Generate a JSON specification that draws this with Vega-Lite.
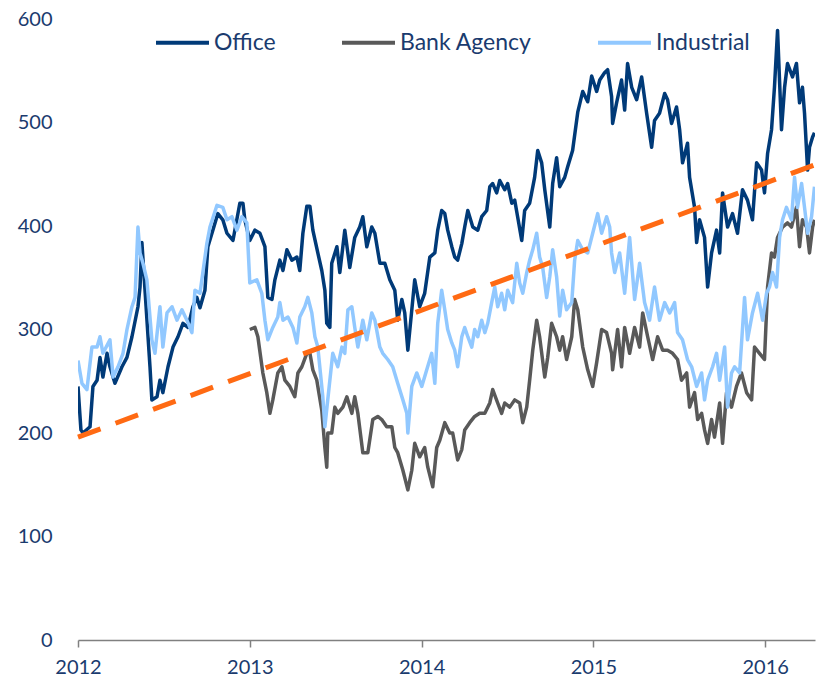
{
"$schema":"https://vega.github.io/schema/vega-lite/v6.json",
"width":737,"height":621,
"autosize":{"type":"none"},
"padding":{"left":78,"top":19,"right":2,"bottom":45},
"background":"white",
"config":{"view":{"stroke":null},"font":"Lato"},
"datasets":{
"trend":[{"year":2012,"value":196},{"year":2016.287,"value":459}],
"series":[
{"series":"Office","year":2012.000,"value":245},{"series":"Office","year":2012.017,"value":203},{"series":"Office","year":2012.029,"value":200},{"series":"Office","year":2012.070,"value":206},{"series":"Office","year":2012.087,"value":245},{"series":"Office","year":2012.111,"value":251},{"series":"Office","year":2012.128,"value":273},{"series":"Office","year":2012.145,"value":254},{"series":"Office","year":2012.169,"value":277},{"series":"Office","year":2012.186,"value":264},{"series":"Office","year":2012.215,"value":248},{"series":"Office","year":2012.256,"value":264},{"series":"Office","year":2012.285,"value":273},{"series":"Office","year":2012.314,"value":293},{"series":"Office","year":2012.349,"value":322},{"series":"Office","year":2012.361,"value":341},{"series":"Office","year":2012.372,"value":384},{"series":"Office","year":2012.419,"value":264},{"series":"Office","year":2012.430,"value":232},{"series":"Office","year":2012.460,"value":235},{"series":"Office","year":2012.477,"value":251},{"series":"Office","year":2012.494,"value":239},{"series":"Office","year":2012.524,"value":264},{"series":"Office","year":2012.553,"value":283},{"series":"Office","year":2012.582,"value":293},{"series":"Office","year":2012.611,"value":306},{"series":"Office","year":2012.640,"value":302},{"series":"Office","year":2012.669,"value":322},{"series":"Office","year":2012.692,"value":331},{"series":"Office","year":2012.710,"value":321},{"series":"Office","year":2012.739,"value":338},{"series":"Office","year":2012.756,"value":380},{"series":"Office","year":2012.785,"value":396},{"series":"Office","year":2012.814,"value":412},{"series":"Office","year":2012.843,"value":406},{"series":"Office","year":2012.867,"value":393},{"series":"Office","year":2012.902,"value":386},{"series":"Office","year":2012.942,"value":422},{"series":"Office","year":2012.960,"value":422},{"series":"Office","year":2012.971,"value":406},{"series":"Office","year":2013.000,"value":386},{"series":"Office","year":2013.030,"value":396},{"series":"Office","year":2013.059,"value":393},{"series":"Office","year":2013.088,"value":380},{"series":"Office","year":2013.105,"value":331},{"series":"Office","year":2013.129,"value":329},{"series":"Office","year":2013.146,"value":348},{"series":"Office","year":2013.175,"value":367},{"series":"Office","year":2013.193,"value":357},{"series":"Office","year":2013.216,"value":377},{"series":"Office","year":2013.245,"value":367},{"series":"Office","year":2013.274,"value":370},{"series":"Office","year":2013.291,"value":357},{"series":"Office","year":2013.309,"value":393},{"series":"Office","year":2013.332,"value":419},{"series":"Office","year":2013.350,"value":419},{"series":"Office","year":2013.367,"value":396},{"series":"Office","year":2013.396,"value":374},{"series":"Office","year":2013.419,"value":357},{"series":"Office","year":2013.437,"value":338},{"series":"Office","year":2013.448,"value":306},{"series":"Office","year":2013.466,"value":302},{"series":"Office","year":2013.477,"value":364},{"series":"Office","year":2013.507,"value":380},{"series":"Office","year":2013.524,"value":355},{"series":"Office","year":2013.553,"value":396},{"series":"Office","year":2013.582,"value":360},{"series":"Office","year":2013.611,"value":389},{"series":"Office","year":2013.640,"value":399},{"series":"Office","year":2013.658,"value":409},{"series":"Office","year":2013.681,"value":380},{"series":"Office","year":2013.710,"value":399},{"series":"Office","year":2013.728,"value":393},{"series":"Office","year":2013.757,"value":364},{"series":"Office","year":2013.786,"value":364},{"series":"Office","year":2013.815,"value":348},{"series":"Office","year":2013.844,"value":338},{"series":"Office","year":2013.861,"value":309},{"series":"Office","year":2013.885,"value":329},{"series":"Office","year":2013.902,"value":316},{"series":"Office","year":2013.920,"value":280},{"series":"Office","year":2013.943,"value":319},{"series":"Office","year":2013.960,"value":348},{"series":"Office","year":2013.989,"value":322},{"series":"Office","year":2014.018,"value":335},{"series":"Office","year":2014.048,"value":370},{"series":"Office","year":2014.077,"value":374},{"series":"Office","year":2014.094,"value":396},{"series":"Office","year":2014.117,"value":415},{"series":"Office","year":2014.135,"value":412},{"series":"Office","year":2014.152,"value":396},{"series":"Office","year":2014.176,"value":380},{"series":"Office","year":2014.193,"value":370},{"series":"Office","year":2014.210,"value":367},{"series":"Office","year":2014.234,"value":383},{"series":"Office","year":2014.251,"value":399},{"series":"Office","year":2014.269,"value":415},{"series":"Office","year":2014.298,"value":399},{"series":"Office","year":2014.327,"value":396},{"series":"Office","year":2014.350,"value":409},{"series":"Office","year":2014.379,"value":415},{"series":"Office","year":2014.397,"value":438},{"series":"Office","year":2014.414,"value":441},{"series":"Office","year":2014.437,"value":432},{"series":"Office","year":2014.455,"value":444},{"series":"Office","year":2014.484,"value":435},{"series":"Office","year":2014.501,"value":441},{"series":"Office","year":2014.525,"value":422},{"series":"Office","year":2014.542,"value":425},{"series":"Office","year":2014.559,"value":409},{"series":"Office","year":2014.583,"value":386},{"series":"Office","year":2014.600,"value":415},{"series":"Office","year":2014.629,"value":422},{"series":"Office","year":2014.658,"value":447},{"series":"Office","year":2014.676,"value":473},{"series":"Office","year":2014.699,"value":461},{"series":"Office","year":2014.717,"value":435},{"series":"Office","year":2014.746,"value":399},{"series":"Office","year":2014.763,"value":441},{"series":"Office","year":2014.786,"value":466},{"series":"Office","year":2014.804,"value":438},{"series":"Office","year":2014.833,"value":447},{"series":"Office","year":2014.850,"value":457},{"series":"Office","year":2014.879,"value":473},{"series":"Office","year":2014.909,"value":510},{"series":"Office","year":2014.938,"value":530},{"series":"Office","year":2014.967,"value":520},{"series":"Office","year":2014.990,"value":545},{"series":"Office","year":2015.019,"value":530},{"series":"Office","year":2015.037,"value":541},{"series":"Office","year":2015.065,"value":548},{"series":"Office","year":2015.083,"value":551},{"series":"Office","year":2015.106,"value":525},{"series":"Office","year":2015.112,"value":499},{"series":"Office","year":2015.135,"value":519},{"series":"Office","year":2015.164,"value":541},{"series":"Office","year":2015.182,"value":512},{"series":"Office","year":2015.199,"value":557},{"series":"Office","year":2015.223,"value":534},{"series":"Office","year":2015.252,"value":522},{"series":"Office","year":2015.281,"value":544},{"series":"Office","year":2015.310,"value":509},{"series":"Office","year":2015.339,"value":476},{"series":"Office","year":2015.356,"value":502},{"series":"Office","year":2015.385,"value":509},{"series":"Office","year":2015.415,"value":528},{"series":"Office","year":2015.432,"value":522},{"series":"Office","year":2015.455,"value":499},{"series":"Office","year":2015.484,"value":515},{"series":"Office","year":2015.502,"value":493},{"series":"Office","year":2015.519,"value":461},{"series":"Office","year":2015.548,"value":480},{"series":"Office","year":2015.560,"value":447},{"series":"Office","year":2015.589,"value":418},{"series":"Office","year":2015.601,"value":384},{"series":"Office","year":2015.618,"value":406},{"series":"Office","year":2015.647,"value":389},{"series":"Office","year":2015.665,"value":341},{"series":"Office","year":2015.688,"value":374},{"series":"Office","year":2015.717,"value":396},{"series":"Office","year":2015.735,"value":374},{"series":"Office","year":2015.752,"value":432},{"series":"Office","year":2015.781,"value":399},{"series":"Office","year":2015.810,"value":412},{"series":"Office","year":2015.839,"value":393},{"series":"Office","year":2015.868,"value":435},{"series":"Office","year":2015.897,"value":425},{"series":"Office","year":2015.926,"value":406},{"series":"Office","year":2015.950,"value":461},{"series":"Office","year":2015.979,"value":454},{"series":"Office","year":2015.996,"value":432},{"series":"Office","year":2016.014,"value":470},{"series":"Office","year":2016.037,"value":493},{"series":"Office","year":2016.054,"value":534},{"series":"Office","year":2016.072,"value":589},{"series":"Office","year":2016.095,"value":493},{"series":"Office","year":2016.113,"value":534},{"series":"Office","year":2016.130,"value":557},{"series":"Office","year":2016.159,"value":544},{"series":"Office","year":2016.182,"value":557},{"series":"Office","year":2016.200,"value":519},{"series":"Office","year":2016.217,"value":534},{"series":"Office","year":2016.229,"value":509},{"series":"Office","year":2016.247,"value":454},{"series":"Office","year":2016.258,"value":476},{"series":"Office","year":2016.276,"value":486},{"series":"Office","year":2016.287,"value":490},
{"series":"Bank Agency","year":2013.000,"value":300},{"series":"Bank Agency","year":2013.030,"value":302},{"series":"Bank Agency","year":2013.047,"value":293},{"series":"Bank Agency","year":2013.076,"value":258},{"series":"Bank Agency","year":2013.099,"value":239},{"series":"Bank Agency","year":2013.117,"value":219},{"series":"Bank Agency","year":2013.134,"value":232},{"series":"Bank Agency","year":2013.163,"value":258},{"series":"Bank Agency","year":2013.187,"value":264},{"series":"Bank Agency","year":2013.204,"value":251},{"series":"Bank Agency","year":2013.233,"value":245},{"series":"Bank Agency","year":2013.262,"value":235},{"series":"Bank Agency","year":2013.280,"value":258},{"series":"Bank Agency","year":2013.303,"value":264},{"series":"Bank Agency","year":2013.332,"value":277},{"series":"Bank Agency","year":2013.350,"value":277},{"series":"Bank Agency","year":2013.367,"value":261},{"series":"Bank Agency","year":2013.390,"value":251},{"series":"Bank Agency","year":2013.419,"value":222},{"series":"Bank Agency","year":2013.437,"value":186},{"series":"Bank Agency","year":2013.448,"value":167},{"series":"Bank Agency","year":2013.454,"value":200},{"series":"Bank Agency","year":2013.477,"value":200},{"series":"Bank Agency","year":2013.495,"value":225},{"series":"Bank Agency","year":2013.512,"value":219},{"series":"Bank Agency","year":2013.542,"value":225},{"series":"Bank Agency","year":2013.565,"value":235},{"series":"Bank Agency","year":2013.594,"value":219},{"series":"Bank Agency","year":2013.611,"value":235},{"series":"Bank Agency","year":2013.629,"value":219},{"series":"Bank Agency","year":2013.658,"value":181},{"series":"Bank Agency","year":2013.687,"value":181},{"series":"Bank Agency","year":2013.716,"value":213},{"series":"Bank Agency","year":2013.745,"value":216},{"series":"Bank Agency","year":2013.768,"value":213},{"series":"Bank Agency","year":2013.797,"value":206},{"series":"Bank Agency","year":2013.827,"value":206},{"series":"Bank Agency","year":2013.844,"value":186},{"series":"Bank Agency","year":2013.861,"value":181},{"series":"Bank Agency","year":2013.891,"value":164},{"series":"Bank Agency","year":2013.920,"value":145},{"series":"Bank Agency","year":2013.943,"value":164},{"series":"Bank Agency","year":2013.960,"value":190},{"series":"Bank Agency","year":2013.989,"value":177},{"series":"Bank Agency","year":2014.018,"value":186},{"series":"Bank Agency","year":2014.036,"value":167},{"series":"Bank Agency","year":2014.065,"value":148},{"series":"Bank Agency","year":2014.088,"value":186},{"series":"Bank Agency","year":2014.106,"value":193},{"series":"Bank Agency","year":2014.135,"value":210},{"series":"Bank Agency","year":2014.164,"value":200},{"series":"Bank Agency","year":2014.181,"value":200},{"series":"Bank Agency","year":2014.210,"value":174},{"series":"Bank Agency","year":2014.234,"value":184},{"series":"Bank Agency","year":2014.251,"value":203},{"series":"Bank Agency","year":2014.280,"value":210},{"series":"Bank Agency","year":2014.309,"value":216},{"series":"Bank Agency","year":2014.338,"value":219},{"series":"Bank Agency","year":2014.368,"value":219},{"series":"Bank Agency","year":2014.397,"value":229},{"series":"Bank Agency","year":2014.414,"value":242},{"series":"Bank Agency","year":2014.443,"value":229},{"series":"Bank Agency","year":2014.466,"value":219},{"series":"Bank Agency","year":2014.484,"value":229},{"series":"Bank Agency","year":2014.513,"value":225},{"series":"Bank Agency","year":2014.542,"value":232},{"series":"Bank Agency","year":2014.571,"value":229},{"series":"Bank Agency","year":2014.589,"value":210},{"series":"Bank Agency","year":2014.612,"value":225},{"series":"Bank Agency","year":2014.629,"value":251},{"series":"Bank Agency","year":2014.647,"value":280},{"series":"Bank Agency","year":2014.670,"value":309},{"series":"Bank Agency","year":2014.687,"value":293},{"series":"Bank Agency","year":2014.717,"value":254},{"series":"Bank Agency","year":2014.734,"value":273},{"series":"Bank Agency","year":2014.757,"value":306},{"series":"Bank Agency","year":2014.786,"value":293},{"series":"Bank Agency","year":2014.804,"value":280},{"series":"Bank Agency","year":2014.821,"value":293},{"series":"Bank Agency","year":2014.844,"value":271},{"series":"Bank Agency","year":2014.874,"value":293},{"series":"Bank Agency","year":2014.891,"value":329},{"series":"Bank Agency","year":2014.909,"value":319},{"series":"Bank Agency","year":2014.938,"value":283},{"series":"Bank Agency","year":2014.967,"value":261},{"series":"Bank Agency","year":2014.996,"value":245},{"series":"Bank Agency","year":2015.019,"value":268},{"series":"Bank Agency","year":2015.048,"value":300},{"series":"Bank Agency","year":2015.077,"value":297},{"series":"Bank Agency","year":2015.106,"value":277},{"series":"Bank Agency","year":2015.112,"value":261},{"series":"Bank Agency","year":2015.141,"value":300},{"series":"Bank Agency","year":2015.164,"value":264},{"series":"Bank Agency","year":2015.182,"value":302},{"series":"Bank Agency","year":2015.211,"value":277},{"series":"Bank Agency","year":2015.240,"value":302},{"series":"Bank Agency","year":2015.269,"value":283},{"series":"Bank Agency","year":2015.287,"value":316},{"series":"Bank Agency","year":2015.316,"value":293},{"series":"Bank Agency","year":2015.345,"value":271},{"series":"Bank Agency","year":2015.374,"value":293},{"series":"Bank Agency","year":2015.403,"value":280},{"series":"Bank Agency","year":2015.432,"value":280},{"series":"Bank Agency","year":2015.461,"value":277},{"series":"Bank Agency","year":2015.490,"value":271},{"series":"Bank Agency","year":2015.513,"value":251},{"series":"Bank Agency","year":2015.543,"value":258},{"series":"Bank Agency","year":2015.560,"value":225},{"series":"Bank Agency","year":2015.589,"value":239},{"series":"Bank Agency","year":2015.607,"value":213},{"series":"Bank Agency","year":2015.630,"value":219},{"series":"Bank Agency","year":2015.647,"value":203},{"series":"Bank Agency","year":2015.665,"value":190},{"series":"Bank Agency","year":2015.688,"value":213},{"series":"Bank Agency","year":2015.705,"value":196},{"series":"Bank Agency","year":2015.735,"value":229},{"series":"Bank Agency","year":2015.752,"value":190},{"series":"Bank Agency","year":2015.775,"value":239},{"series":"Bank Agency","year":2015.804,"value":225},{"series":"Bank Agency","year":2015.833,"value":245},{"series":"Bank Agency","year":2015.862,"value":258},{"series":"Bank Agency","year":2015.892,"value":239},{"series":"Bank Agency","year":2015.921,"value":232},{"series":"Bank Agency","year":2015.938,"value":283},{"series":"Bank Agency","year":2015.967,"value":277},{"series":"Bank Agency","year":2015.996,"value":271},{"series":"Bank Agency","year":2016.014,"value":341},{"series":"Bank Agency","year":2016.037,"value":374},{"series":"Bank Agency","year":2016.054,"value":370},{"series":"Bank Agency","year":2016.072,"value":389},{"series":"Bank Agency","year":2016.101,"value":399},{"series":"Bank Agency","year":2016.130,"value":403},{"series":"Bank Agency","year":2016.153,"value":399},{"series":"Bank Agency","year":2016.182,"value":418},{"series":"Bank Agency","year":2016.200,"value":380},{"series":"Bank Agency","year":2016.217,"value":406},{"series":"Bank Agency","year":2016.241,"value":399},{"series":"Bank Agency","year":2016.258,"value":374},{"series":"Bank Agency","year":2016.276,"value":399},{"series":"Bank Agency","year":2016.287,"value":406},
{"series":"Industrial","year":2012.000,"value":270},{"series":"Industrial","year":2012.023,"value":248},{"series":"Industrial","year":2012.052,"value":242},{"series":"Industrial","year":2012.081,"value":283},{"series":"Industrial","year":2012.111,"value":283},{"series":"Industrial","year":2012.128,"value":293},{"series":"Industrial","year":2012.145,"value":277},{"series":"Industrial","year":2012.186,"value":290},{"series":"Industrial","year":2012.204,"value":254},{"series":"Industrial","year":2012.233,"value":264},{"series":"Industrial","year":2012.262,"value":277},{"series":"Industrial","year":2012.285,"value":300},{"series":"Industrial","year":2012.314,"value":322},{"series":"Industrial","year":2012.332,"value":331},{"series":"Industrial","year":2012.349,"value":399},{"series":"Industrial","year":2012.361,"value":374},{"series":"Industrial","year":2012.378,"value":364},{"series":"Industrial","year":2012.401,"value":348},{"series":"Industrial","year":2012.430,"value":290},{"series":"Industrial","year":2012.448,"value":277},{"series":"Industrial","year":2012.477,"value":322},{"series":"Industrial","year":2012.494,"value":283},{"series":"Industrial","year":2012.518,"value":316},{"series":"Industrial","year":2012.547,"value":322},{"series":"Industrial","year":2012.576,"value":309},{"series":"Industrial","year":2012.605,"value":319},{"series":"Industrial","year":2012.634,"value":309},{"series":"Industrial","year":2012.663,"value":297},{"series":"Industrial","year":2012.681,"value":338},{"series":"Industrial","year":2012.710,"value":335},{"series":"Industrial","year":2012.750,"value":383},{"series":"Industrial","year":2012.768,"value":399},{"series":"Industrial","year":2012.809,"value":420},{"series":"Industrial","year":2012.843,"value":418},{"series":"Industrial","year":2012.867,"value":406},{"series":"Industrial","year":2012.896,"value":409},{"series":"Industrial","year":2012.925,"value":396},{"series":"Industrial","year":2012.954,"value":409},{"series":"Industrial","year":2012.983,"value":403},{"series":"Industrial","year":2013.000,"value":345},{"series":"Industrial","year":2013.041,"value":348},{"series":"Industrial","year":2013.070,"value":335},{"series":"Industrial","year":2013.088,"value":309},{"series":"Industrial","year":2013.105,"value":290},{"series":"Industrial","year":2013.134,"value":302},{"series":"Industrial","year":2013.163,"value":312},{"series":"Industrial","year":2013.175,"value":326},{"series":"Industrial","year":2013.193,"value":309},{"series":"Industrial","year":2013.222,"value":312},{"series":"Industrial","year":2013.251,"value":302},{"series":"Industrial","year":2013.274,"value":287},{"series":"Industrial","year":2013.291,"value":312},{"series":"Industrial","year":2013.320,"value":322},{"series":"Industrial","year":2013.338,"value":331},{"series":"Industrial","year":2013.361,"value":316},{"series":"Industrial","year":2013.379,"value":293},{"series":"Industrial","year":2013.396,"value":283},{"series":"Industrial","year":2013.425,"value":235},{"series":"Industrial","year":2013.437,"value":206},{"series":"Industrial","year":2013.466,"value":251},{"series":"Industrial","year":2013.483,"value":277},{"series":"Industrial","year":2013.512,"value":264},{"series":"Industrial","year":2013.536,"value":283},{"series":"Industrial","year":2013.553,"value":277},{"series":"Industrial","year":2013.571,"value":319},{"series":"Industrial","year":2013.594,"value":322},{"series":"Industrial","year":2013.611,"value":302},{"series":"Industrial","year":2013.629,"value":283},{"series":"Industrial","year":2013.658,"value":309},{"series":"Industrial","year":2013.681,"value":290},{"series":"Industrial","year":2013.710,"value":316},{"series":"Industrial","year":2013.728,"value":309},{"series":"Industrial","year":2013.757,"value":283},{"series":"Industrial","year":2013.774,"value":277},{"series":"Industrial","year":2013.803,"value":271},{"series":"Industrial","year":2013.832,"value":264},{"series":"Industrial","year":2013.861,"value":248},{"series":"Industrial","year":2013.891,"value":232},{"series":"Industrial","year":2013.914,"value":219},{"series":"Industrial","year":2013.920,"value":200},{"series":"Industrial","year":2013.943,"value":245},{"series":"Industrial","year":2013.972,"value":258},{"series":"Industrial","year":2014.001,"value":245},{"series":"Industrial","year":2014.030,"value":261},{"series":"Industrial","year":2014.059,"value":277},{"series":"Industrial","year":2014.077,"value":248},{"series":"Industrial","year":2014.094,"value":306},{"series":"Industrial","year":2014.117,"value":338},{"series":"Industrial","year":2014.135,"value":319},{"series":"Industrial","year":2014.152,"value":300},{"series":"Industrial","year":2014.176,"value":287},{"series":"Industrial","year":2014.193,"value":280},{"series":"Industrial","year":2014.210,"value":264},{"series":"Industrial","year":2014.234,"value":293},{"series":"Industrial","year":2014.251,"value":302},{"series":"Industrial","year":2014.269,"value":293},{"series":"Industrial","year":2014.292,"value":283},{"series":"Industrial","year":2014.309,"value":300},{"series":"Industrial","year":2014.327,"value":293},{"series":"Industrial","year":2014.350,"value":309},{"series":"Industrial","year":2014.368,"value":297},{"series":"Industrial","year":2014.385,"value":306},{"series":"Industrial","year":2014.408,"value":326},{"series":"Industrial","year":2014.426,"value":341},{"series":"Industrial","year":2014.443,"value":322},{"series":"Industrial","year":2014.466,"value":335},{"series":"Industrial","year":2014.484,"value":319},{"series":"Industrial","year":2014.501,"value":338},{"series":"Industrial","year":2014.530,"value":326},{"series":"Industrial","year":2014.554,"value":364},{"series":"Industrial","year":2014.571,"value":345},{"series":"Industrial","year":2014.589,"value":335},{"series":"Industrial","year":2014.612,"value":355},{"series":"Industrial","year":2014.629,"value":367},{"series":"Industrial","year":2014.647,"value":377},{"series":"Industrial","year":2014.670,"value":393},{"series":"Industrial","year":2014.687,"value":370},{"series":"Industrial","year":2014.705,"value":360},{"series":"Industrial","year":2014.728,"value":331},{"series":"Industrial","year":2014.746,"value":351},{"series":"Industrial","year":2014.763,"value":377},{"series":"Industrial","year":2014.786,"value":351},{"series":"Industrial","year":2014.804,"value":313},{"series":"Industrial","year":2014.821,"value":338},{"series":"Industrial","year":2014.844,"value":319},{"series":"Industrial","year":2014.874,"value":326},{"series":"Industrial","year":2014.891,"value":367},{"series":"Industrial","year":2014.909,"value":386},{"series":"Industrial","year":2014.938,"value":377},{"series":"Industrial","year":2014.967,"value":374},{"series":"Industrial","year":2014.996,"value":393},{"series":"Industrial","year":2015.025,"value":412},{"series":"Industrial","year":2015.048,"value":393},{"series":"Industrial","year":2015.077,"value":409},{"series":"Industrial","year":2015.095,"value":399},{"series":"Industrial","year":2015.106,"value":374},{"series":"Industrial","year":2015.124,"value":355},{"series":"Industrial","year":2015.153,"value":374},{"series":"Industrial","year":2015.182,"value":335},{"series":"Industrial","year":2015.211,"value":389},{"series":"Industrial","year":2015.240,"value":329},{"series":"Industrial","year":2015.269,"value":364},{"series":"Industrial","year":2015.298,"value":326},{"series":"Industrial","year":2015.327,"value":309},{"series":"Industrial","year":2015.356,"value":341},{"series":"Industrial","year":2015.385,"value":309},{"series":"Industrial","year":2015.415,"value":326},{"series":"Industrial","year":2015.444,"value":316},{"series":"Industrial","year":2015.473,"value":326},{"series":"Industrial","year":2015.490,"value":297},{"series":"Industrial","year":2015.519,"value":290},{"series":"Industrial","year":2015.548,"value":271},{"series":"Industrial","year":2015.572,"value":264},{"series":"Industrial","year":2015.601,"value":245},{"series":"Industrial","year":2015.630,"value":258},{"series":"Industrial","year":2015.647,"value":232},{"series":"Industrial","year":2015.665,"value":251},{"series":"Industrial","year":2015.694,"value":264},{"series":"Industrial","year":2015.717,"value":277},{"series":"Industrial","year":2015.735,"value":251},{"series":"Industrial","year":2015.764,"value":283},{"series":"Industrial","year":2015.781,"value":225},{"series":"Industrial","year":2015.804,"value":258},{"series":"Industrial","year":2015.822,"value":264},{"series":"Industrial","year":2015.851,"value":258},{"series":"Industrial","year":2015.880,"value":331},{"series":"Industrial","year":2015.897,"value":290},{"series":"Industrial","year":2015.926,"value":316},{"series":"Industrial","year":2015.956,"value":335},{"series":"Industrial","year":2015.985,"value":309},{"series":"Industrial","year":2016.008,"value":335},{"series":"Industrial","year":2016.025,"value":341},{"series":"Industrial","year":2016.043,"value":355},{"series":"Industrial","year":2016.066,"value":341},{"series":"Industrial","year":2016.084,"value":389},{"series":"Industrial","year":2016.101,"value":406},{"series":"Industrial","year":2016.124,"value":418},{"series":"Industrial","year":2016.153,"value":406},{"series":"Industrial","year":2016.171,"value":447},{"series":"Industrial","year":2016.188,"value":418},{"series":"Industrial","year":2016.212,"value":441},{"series":"Industrial","year":2016.229,"value":418},{"series":"Industrial","year":2016.247,"value":393},{"series":"Industrial","year":2016.270,"value":409},{"series":"Industrial","year":2016.287,"value":438}
]},
"layer":[
{"data":{"name":"series"},
 "mark":{"type":"line","strokeWidth":3.5,"clip":true,"strokeJoin":"round"},
 "encoding":{
  "x":{"field":"year","type":"quantitative","scale":{"domain":[2012,2016.29],"nice":false,"zero":false},
       "axis":{"values":[2012,2013,2014,2015,2016],"format":"d","title":null,"grid":false,"labelFont":"Lato","labelFontSize":20,"labelColor":"#1A3B6E","labelPadding":10,"domainColor":"#808080","domainWidth":1.5,"tickColor":"#808080","tickWidth":1.5,"tickSize":7,"labelFlush":false}},
  "y":{"field":"value","type":"quantitative","scale":{"domain":[0,600],"nice":false},
       "axis":{"values":[0,100,200,300,400,500,600],"title":null,"grid":false,"domain":false,"ticks":false,"labelFont":"Lato","labelFontSize":20,"labelColor":"#1A3B6E","labelPadding":26}},
  "color":{"field":"series","type":"nominal","sort":["Office","Bank Agency","Industrial"],
       "scale":{"domain":["Office","Bank Agency","Industrial"],"range":["#003A78","#595959","#91C8FF"]},
       "legend":{"orient":"none","legendX":76,"legendY":-5,"direction":"horizontal","title":null,"symbolType":"stroke","symbolSize":2809,"symbolStrokeWidth":4,"labelFont":"Lato","labelFontSize":23,"labelColor":"#1A3B6E","labelOffset":3,"columnPadding":58}}
 }},
{"data":{"name":"trend"},
 "mark":{"type":"line","color":"#FF6A13","strokeWidth":5,"strokeDash":[24,16]},
 "encoding":{"x":{"field":"year","type":"quantitative"},"y":{"field":"value","type":"quantitative"}}}
]
}
